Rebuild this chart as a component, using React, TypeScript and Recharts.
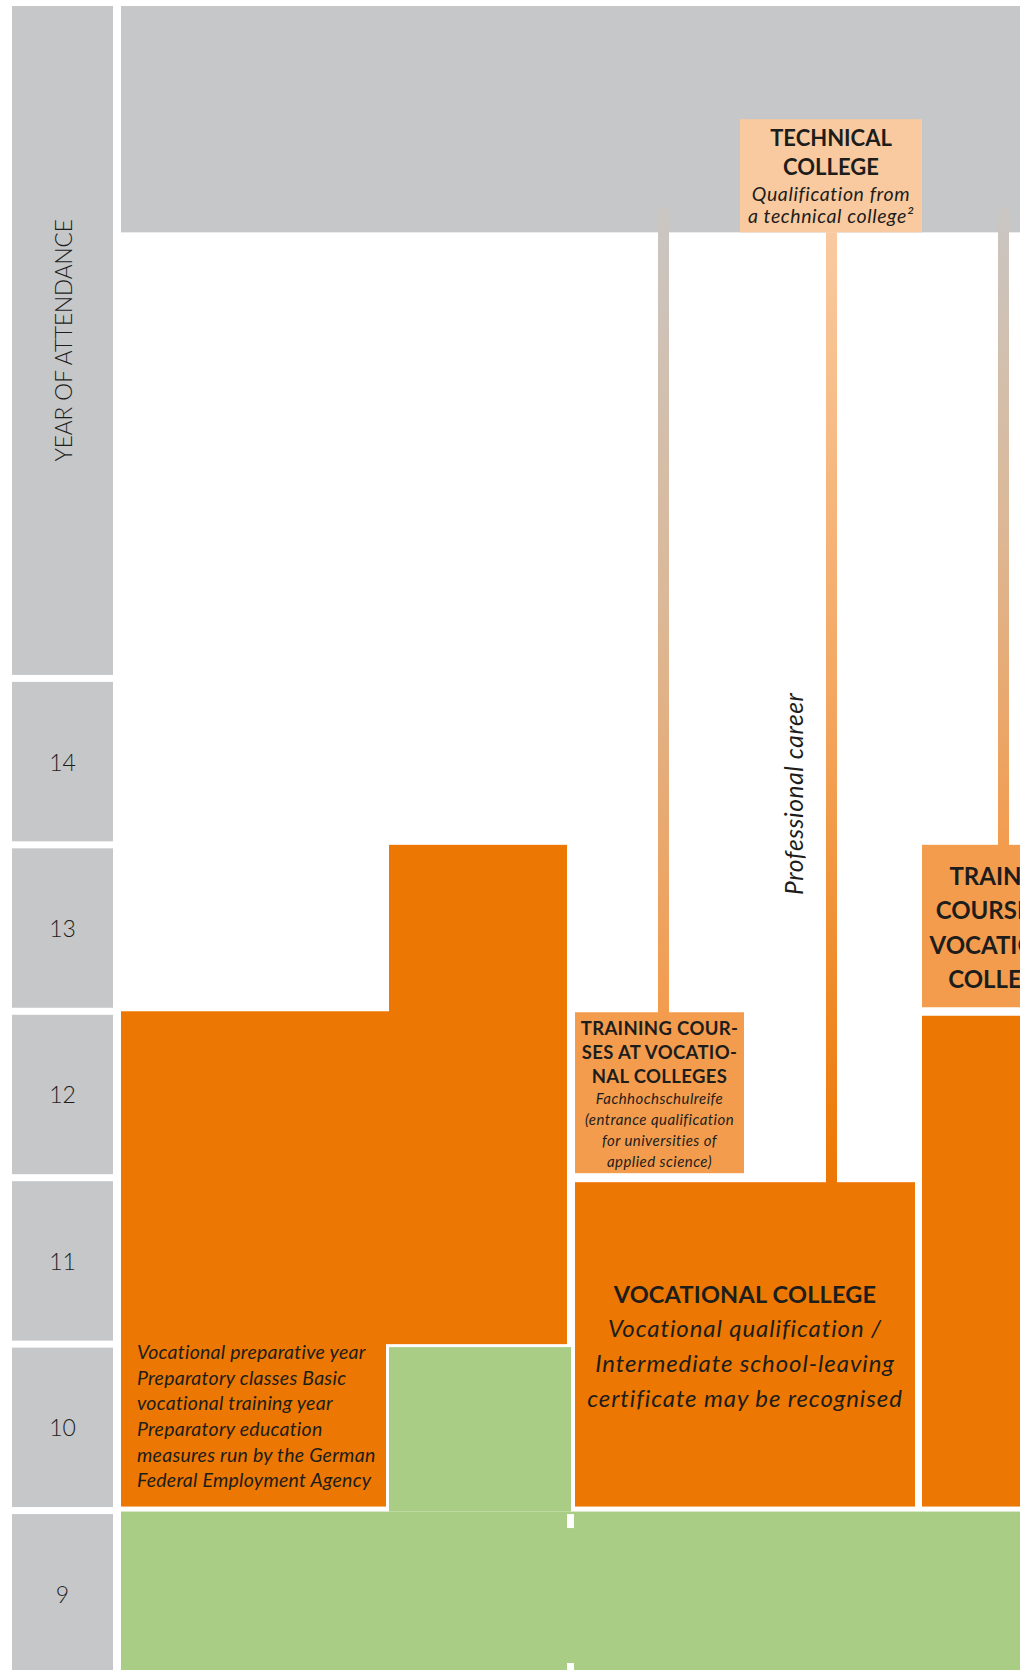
import React from 'react';
import { ComposedChart, XAxis, YAxis, ReferenceArea } from 'recharts';

const CHART_W = 1020;
const CHART_H = 1677;
const TOP_GAP = 6;
const AXIS_W = 121;
const Y_MIN = 9;
const Y_MAX = 19.04;
const X_MAX = 899;
const ROW_PX = (CHART_H - TOP_GAP) / (Y_MAX - Y_MIN);
const FONT = 'Lato, "Open Sans", sans-serif';

const GRAY = '#c6c7c9';
const ORANGE = '#ec7703';
const LIGHT = '#f39c4e';
const PEACH = '#f9caa0';
const GREEN = '#a9cd84';
const INK = '#1d1d1b';

// years of attendance in the left column
const rowYears = [9, 10, 11, 12, 13, 14];
const headerStart = 15;
const axisTitle = 'YEAR OF ATTENDANCE';

// blocks: track position across the diagram (0 = left edge of the school area)
// and the span on the year-of-attendance axis
const blocks = [
  { id: 'upperBand', x: [0, 899], years: [17.68, 19.04] },
  { id: 'lowerSecondary', x: [0, 899], years: [9, 10] },
  { id: 'seamTop', x: [446, 453], years: [9.895, 9.979] },
  { id: 'seamBottom', x: [446, 453], years: [9, 9.084] },
  { id: 'prepMain', x: [0, 446], years: [11, 13] },
  { id: 'prepUpper', x: [268, 446], years: [13, 14] },
  { id: 'prepLower', x: [0, 265], years: [10, 11] },
  { id: 'lowerSecondaryStep', x: [268, 450], years: [10, 11] },
  { id: 'pathLeft', x: [537, 548], years: [13, 17.83] },
  { id: 'pathRight', x: [877, 888], years: [14, 17.83] },
  { id: 'pathCareer', x: [705, 716], years: [12, 17.68] },
  { id: 'technicalCollege', x: [619, 801], years: [17.68, 18.36] },
  { id: 'vocationalCollege', x: [454, 794], years: [10, 12] },
  { id: 'trainingCourses', x: [454, 623], years: [12, 13] },
  { id: 'trainingCoursesRight', x: [801, 971], years: [13, 14] },
  { id: 'dualRight', x: [801, 971], years: [10, 13] },
];

const techTitle = ['TECHNICAL', 'COLLEGE'];
const techNote = ['Qualification from', 'a technical college²'];
const trainTitle = ['TRAINING COUR-', 'SES AT VOCATIO-', 'NAL COLLEGES'];
const trainNote = ['Fachhochschulreife', '(entrance qualification', 'for universities of', 'applied science)'];
const vocTitle = ['VOCATIONAL COLLEGE'];
const vocNote = ['Vocational qualification /', 'Intermediate school-leaving', 'certificate may be recognised'];
const prepNote = [
  'Vocational preparative year',
  'Preparatory classes Basic',
  'vocational training year',
  'Preparatory education',
  'measures run by the German',
  'Federal Employment Agency',
];
const rightTitle = ['TRAINING', 'COURSES AT', 'VOCATIONAL', 'COLLEGES'];
const careerLabel = 'Professional career';

type Style = { fill: string; inset?: number[] };
const blockStyle: Record<string, Style> = {
  upperBand: { fill: GRAY },
  lowerSecondary: { fill: GREEN, inset: [1, 0, 0, 0] },
  seamTop: { fill: '#fff' },
  seamBottom: { fill: '#fff' },
  prepMain: { fill: ORANGE },
  prepUpper: { fill: ORANGE, inset: [0, 0, -1, 0] },
  prepLower: { fill: ORANGE, inset: [-1, 0, 4, 0] },
  lowerSecondaryStep: { fill: GREEN, inset: [3, 0, -1, 0] },
  pathLeft: { fill: 'url(#gradPath)', inset: [0, 0, -2, 0] },
  pathRight: { fill: 'url(#gradPath)', inset: [0, 0, -1, 0] },
  pathCareer: { fill: 'url(#gradCareer)', inset: [0, 0, -6, 0] },
  technicalCollege: { fill: PEACH },
  vocationalCollege: { fill: ORANGE, inset: [4.5, 0, 4, 0] },
  trainingCourses: { fill: LIGHT, inset: [1, 0, 4.5, 0] },
  trainingCoursesRight: { fill: LIGHT, inset: [0, 0, 4, 0] },
  dualRight: { fill: ORANGE, inset: [4.5, 0, 4, 0] },
};

type Line = { text: string; dy: number; size: number; bold?: boolean; italic?: boolean; track?: number };
type TextBlock = { anchor: 'middle' | 'start'; dx: number | null; lines: Line[] };

const bold = (arr: string[], start: number, step: number, size: number, track = 0): Line[] =>
  arr.map((text, i) => ({ text, dy: start + i * step, size, bold: true, track }));
const ital = (arr: string[], start: number, step: number, size: number, track = 0): Line[] =>
  arr.map((text, i) => ({ text, dy: start + i * step, size, italic: true, track }));

const blockText: Record<string, TextBlock> = {
  technicalCollege: {
    anchor: 'middle',
    dx: null,
    lines: [...bold(techTitle, 27, 29, 22), ...ital(techNote, 82, 22, 19.5, 0.6)],
  },
  trainingCourses: {
    anchor: 'middle',
    dx: null,
    lines: [...bold(trainTitle, 23, 24, 18.5, 0.35), ...ital(trainNote, 92, 21, 15, 0.45)],
  },
  vocationalCollege: {
    anchor: 'middle',
    dx: null,
    lines: [...bold(vocTitle, 121, 0, 23.5, 0.2), ...ital(vocNote, 155, 35, 24, 0.9)],
  },
  prepLower: {
    anchor: 'start',
    dx: 16,
    lines: ital(prepNote, 16, 25.6, 19.5, 0.25),
  },
  trainingCoursesRight: {
    anchor: 'middle',
    dx: null,
    lines: bold(rightTitle, 40, 34.5, 24),
  },
};

function blockShape(id: string) {
  return (p: any) => {
    const st = blockStyle[id];
    const [t, r, b, l] = st.inset ?? [0, 0, 0, 0];
    const x = p.x + l;
    const y = p.y + t;
    const w = p.width - l - r;
    const h = p.height - t - b;
    const txt = blockText[id];
    const cx = x + w / 2 - 38;
    const cy = y + h - 390;
    return (
      <g>
        <rect x={x} y={y} width={w} height={h} fill={st.fill} />
        {txt &&
          txt.lines.map((ln, i) => (
            <text
              key={i}
              x={txt.dx == null ? x + w / 2 : x + txt.dx}
              y={y + ln.dy}
              textAnchor={txt.anchor}
              fontFamily={FONT}
              fontSize={ln.size}
              fontWeight={ln.bold ? 700 : 400}
              fontStyle={ln.italic ? 'italic' : 'normal'}
              letterSpacing={ln.track ?? 0}
              fill={INK}
            >
              {ln.text}
            </text>
          ))}
        {id === 'pathCareer' && (
          <text
            x={cx}
            y={cy}
            transform={`rotate(-90, ${cx}, ${cy})`}
            textAnchor="middle"
            dominantBaseline="central"
            fontFamily={FONT}
            fontSize={24.5}
            fontStyle="italic"
            letterSpacing={0.6}
            fill={INK}
          >
            {careerLabel}
          </text>
        )}
      </g>
    );
  };
}

function RowTick(props: any) {
  const { y, payload } = props;
  const year = Math.floor(payload.value);
  return (
    <g>
      <rect x={12} y={y - ROW_PX / 2 + 3.5} width={101} height={ROW_PX - 7} fill={GRAY} />
      <text
        x={62.5}
        y={y}
        textAnchor="middle"
        dominantBaseline="central"
        fontFamily={FONT}
        fontSize={23}
        fontWeight={300}
        fill={INK}
      >
        {year}
      </text>
    </g>
  );
}

function HeaderCell(props: any) {
  const vb = props.viewBox ?? {};
  const top = typeof vb.y === 'number' ? vb.y : TOP_GAP;
  const bottom = top + (Y_MAX - headerStart) * ROW_PX - 3.5;
  const cy = (top + bottom) / 2;
  return (
    <g>
      <rect x={12} y={top} width={101} height={bottom - top} fill={GRAY} />
      <text
        x={64}
        y={cy}
        transform={`rotate(-90, 64, ${cy})`}
        textAnchor="middle"
        dominantBaseline="central"
        fontFamily={FONT}
        fontSize={22.5}
        fontWeight={300}
        fill={INK}
      >
        {axisTitle}
      </text>
    </g>
  );
}

export default function App() {
  const data = rowYears.map((year) => ({ year }));
  return (
    <div
      style={{
        position: 'absolute',
        left: 0,
        top: 0,
        width: CHART_W,
        height: 1670,
        overflow: 'hidden',
        background: '#fff',
      }}
    >
      <ComposedChart
        width={CHART_W}
        height={CHART_H}
        data={data}
        margin={{ top: TOP_GAP, right: 0, bottom: 0, left: 0 }}
      >
        <defs>
          <linearGradient id="gradPath" x1="0" y1="0" x2="0" y2="1">
            <stop offset="0%" stopColor="#c9c6c3" />
            <stop offset="50%" stopColor="#dcb897" />
            <stop offset="100%" stopColor="#f39c4e" />
          </linearGradient>
          <linearGradient id="gradCareer" x1="0" y1="0" x2="0" y2="1">
            <stop offset="0%" stopColor="#f9caa0" />
            <stop offset="50%" stopColor="#f3a660" />
            <stop offset="100%" stopColor="#ec7703" />
          </linearGradient>
        </defs>
        <XAxis type="number" dataKey="year" domain={[0, X_MAX]} allowDataOverflow hide />
        <YAxis
          type="number"
          domain={[Y_MIN, Y_MAX]}
          allowDataOverflow
          ticks={rowYears.map((v) => v + 0.5)}
          interval={0}
          width={AXIS_W}
          axisLine={false}
          tickLine={false}
          tick={RowTick}
          label={{ content: HeaderCell }}
        />
        {blocks.map((b) => (
          <ReferenceArea
            key={b.id}
            x1={b.x[0]}
            x2={b.x[1]}
            y1={b.years[0]}
            y2={b.years[1]}
            ifOverflow="hidden"
            shape={blockShape(b.id)}
          />
        ))}
      </ComposedChart>
    </div>
  );
}
